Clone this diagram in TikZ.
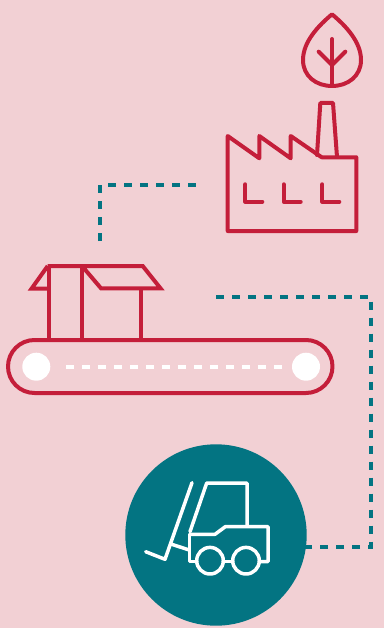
\documentclass[tikz,border=0pt]{standalone}
\definecolor{bgpink}{HTML}{F2D0D4}
\definecolor{brandred}{HTML}{C41E3A}
\definecolor{brandteal}{HTML}{037482}
\tikzset{
  redline/.style={draw=brandred,line width=4pt,line cap=round,line join=round},
  whiteline/.style={draw=white,line width=3.5pt,line cap=round,line join=round},
  tealdash/.style={draw=brandteal,line width=4pt,dash pattern=on 8pt off 8pt},
}
\begin{document}
\begin{tikzpicture}[x=1pt,y=-1pt]
\useasboundingbox (0,0) rectangle (384,628);
\fill[bgpink] (0,0) rectangle (384,628);
% tree
\draw[redline] (332,14.3) .. controls (318,26) and (303,42) .. (303,60)
  .. controls (303,76) and (316,86) .. (332,86)
  .. controls (348,86) and (361,76) .. (361,60)
  .. controls (361,42) and (346,26) .. (332,14.3) -- cycle;
\draw[redline] (332,39) -- (332,86);
\draw[redline] (318.7,51.7) -- (332,65) -- (345.3,51.7);
% factory
\draw[redline] (317,155) -- (320.3,103) -- (333,103) -- (337,157);
\draw[redline] (227.7,136) -- (259.3,158.3) -- (259.3,136) -- (290.7,158.3) -- (290.7,136)
  -- (321.7,157.3) -- (356.3,157.3) -- (356.3,231) -- (227.7,231) -- cycle;
\foreach \wx in {245.3,283.7,322.3}
  \draw[redline] (\wx,184.3) -- (\wx,201.7) -- ++(17,0);
% box
\draw[redline,line cap=butt,line join=miter] (47.7,266) -- (142.7,266) -- (160.5,288.3) -- (101,288.3) -- (82,266);
\draw[redline,line cap=butt,line join=miter] (47.7,266) -- (31.5,288.7) -- (49,288.7);
\draw[redline,line cap=butt] (49,266) -- (49,340);
\draw[redline,line cap=butt] (82,266) -- (82,340);
\draw[redline,line cap=butt] (141,288) -- (141,340);
% conveyor
\draw[redline] (34.5,340) -- (306,340) arc[start angle=-90,end angle=90,radius=26.5]
  -- (34.5,393) arc[start angle=90,end angle=270,radius=26.5] -- cycle;
\node[circle,fill=white,minimum size=28pt,inner sep=0pt] (rollerL) at (36.3,366.7) {};
\node[circle,fill=white,minimum size=28pt,inner sep=0pt] (rollerR) at (306,366.7) {};
\draw[draw=white,line width=4pt,dash pattern=on 8pt off 8pt] (66,366.7) -- (282,366.7);
% connectors
\node[circle,fill=brandteal,minimum size=181.4pt,inner sep=0pt] (truck) at (216,535) {};
\coordinate (c1s) at (100,241);
\coordinate (c1e) at (196,185);
\coordinate (c2s) at (216,296.5);
\coordinate (c2e) at (304,546.5);
\draw[tealdash] (c1s) -- (100,185) -- (c1e);
\draw[tealdash] (c2s) -- (371,296.5) -- (371,546.5) -- (c2e);
% forklift
\draw[whiteline] (192,482.7) -- (165,559.3) -- (145.7,551.7);
\draw[whiteline] (171.7,544.3) -- (189.3,550);
\draw[whiteline] (190,531.7) -- (206.7,483) -- (247,483) -- (247,526);
\draw[whiteline] (190,534.3) -- (215,534.3) -- (225.3,526.7) -- (268,526.7) -- (268,561.7) -- (259.3,561.7);
\draw[whiteline] (189.3,534.3) -- (189.3,561.7) -- (196.7,561.7);
\draw[whiteline] (223.3,561.7) -- (232.7,561.7);
\draw[whiteline] (210,560.7) circle (13.3);
\draw[whiteline] (246,560.7) circle (13.3);
\end{tikzpicture}
\end{document}
